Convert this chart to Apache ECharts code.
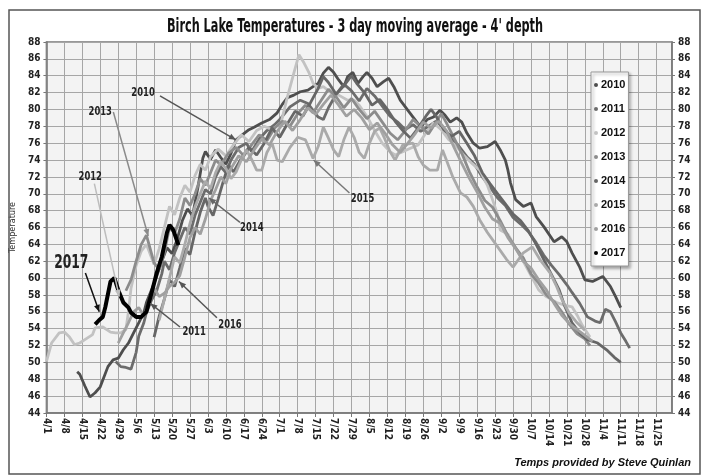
<!DOCTYPE html>
<html>
<head>
<meta charset="utf-8">
<script src="https://cdn.jsdelivr.net/npm/echarts@6/dist/echarts.min.js"></script>
<style>
    html, body { margin: 0; padding: 0; background: #fff; }
    #chart { width: 702px; height: 476px; }
</style>
</head>
<body>
<div id="chart"></div>
<script>
const FONT = '"Liberation Sans Narrow", "DejaVu Sans Condensed", "Liberation Sans", sans-serif'

// x axis = days since 4/1, one tick per week
const dateLabels = ['4/1', '4/8', '4/15', '4/22', '4/29', '5/6', '5/13', '5/20', '5/27', '6/3', '6/10', '6/17', '6/24',
    '7/1', '7/8', '7/15', '7/22', '7/29', '8/5', '8/12', '8/19', '8/26', '9/2', '9/9', '9/16', '9/23', '9/30',
    '10/7', '10/14', '10/21', '10/28', '11/4', '11/11', '11/18', '11/25']

const years = ['2010', '2011', '2012', '2013', '2014', '2015', '2016', '2017']
const yearColors = ['#4e4e4e', '#6c6c6c', '#c2c2c2', '#8c8c8c', '#666666', '#aaaaaa', '#a0a0a0', '#000000']

// [day since 4/1, temperature F]
const t2010 = [[12, 48.9], [13, 48.6], [15, 47.2], [17, 45.9], [19, 46.4], [21, 47.1], [22, 47.9], [24, 49.5], [26, 50.3],
    [28, 50.5], [30, 51.5], [32, 52.3], [34, 53.5], [36, 54.7], [38, 55.9], [39, 57.1], [41, 58.6], [43, 60.2], [45, 62],
    [47, 63.6], [49, 62.9], [51, 64.6], [53, 66.8], [55, 68.2], [57, 67.4], [59, 70.6], [61, 74.2], [62, 75], [64, 74.1],
    [66, 75.2], [68, 74.3], [70, 73.5], [72, 74.8], [74, 76.4], [76, 76.9], [79, 77.6], [81, 77.9], [84, 78.4], [87, 78.8],
    [90, 79.6], [92, 80.6], [94, 81.4], [96.5, 81.7], [99, 82.1], [102, 82.3], [104, 82.7], [106, 83.1], [108, 84.3],
    [110, 85], [112, 84.4], [114, 83.5], [116, 82.7], [117.5, 83.9], [119.5, 84.4], [121.5, 83.1], [123.5, 83.9],
    [125, 84.4], [127, 83.7], [129, 82.7], [131.5, 83.3], [133.5, 83.7], [135.5, 82.7], [138, 81.1], [141, 79.9],
    [143, 79.1], [146, 77.9], [148.5, 78.8], [151, 79.1], [153.5, 79.9], [155.5, 79.3], [157.5, 78.5], [160, 79],
    [162, 78.5], [164, 77.2], [166.5, 76], [169, 75.4], [172, 75.6], [175, 76.2], [177, 75.2], [179, 74], [180, 72.8],
    [181, 71.3], [183, 69.3], [186, 68.5], [189, 68.9], [191, 67.3], [194, 66.1], [198, 64.3], [201, 64.9], [203, 64.3],
    [205, 63], [208, 61.3], [210, 59.8], [213, 59.6], [217, 60.2], [220, 59], [222, 57.8], [224, 56.5]]
const t2011 = [[27, 50.1], [29, 49.5], [31, 49.4], [33, 49.2], [35, 51.2], [36, 53.1], [38, 54.7], [39, 55.9], [41, 57.4],
    [43, 58.5], [45, 60.5], [46, 62], [48, 61], [50, 63], [52, 64.5], [54, 66], [56, 65.2], [58, 67.5], [60, 69], [62, 70.5],
    [64, 70], [66, 72], [68, 73.2], [70, 72.5], [72, 74], [75, 75.5], [78, 76], [80, 75], [83, 76.5], [86, 77.5], [89, 78.2],
    [91, 78.8], [95, 80.3], [99, 81.1], [102, 80.7], [104, 79.9], [106, 79.1], [108, 78.8], [110, 80.2], [113, 81.8],
    [116, 83], [119, 82.2], [122, 81], [125, 82.5], [128, 81.6], [131, 80.4], [134, 79.2], [137, 78.5], [140, 77.6],
    [143, 78.2], [146, 77.4], [149, 78], [152, 78.6], [155, 77.8], [158, 76.5], [161, 75.6], [164, 74.4], [167, 73.5],
    [170, 72], [173, 70.8], [176, 69.5], [179, 68.6], [182, 67.2], [185, 66.4], [188, 65.5], [191, 64.2], [194, 62.7],
    [197, 61.5], [200, 60.4], [203, 59.2], [205, 58.3], [208, 57], [211, 55.4], [214, 54.9], [216, 54.7], [218, 56.3],
    [220, 56], [222, 54.8], [224, 53.5], [226, 52.5], [227.5, 51.7]]
const t2012 = [[0, 50.1], [2, 52.3], [5, 53.5], [7, 53.6], [9, 53], [11, 52.1], [13, 52.3], [15, 52.7], [18, 53.3],
    [19, 54.1], [22, 54.2], [25, 53.6], [27, 53.5], [29, 53.5], [31, 53.9], [32, 56], [33, 58.8], [35, 61.5], [37, 63.2],
    [39, 64], [40, 63.2], [42, 61.6], [44, 63.5], [46, 66], [48, 68.5], [50, 67.5], [52, 69.5], [54, 71], [56, 70.2],
    [58, 72.2], [60, 73.5], [62, 72.8], [64, 74.4], [67, 75.3], [70, 74.5], [73, 75.8], [76, 77], [79, 76.2], [82, 77.5],
    [85, 78], [88, 77.6], [91.5, 78.4], [94, 81.5], [96.5, 84.3], [98.5, 86.5], [100.5, 85.5], [102.5, 84.3], [104, 83.1],
    [106, 82.5], [108, 82.7], [111, 82], [114, 81.7], [117.5, 81.1], [120, 81.1], [122, 80.5], [125, 79.2], [128, 77.5],
    [131, 76], [134, 75], [136, 74.6], [139, 75], [142, 75.4], [145, 75.8], [148, 77.2], [151, 78.4], [154, 77.6],
    [157, 76.4], [160, 75.6], [163, 74.5], [166, 73.6], [169, 72.8], [172, 71], [174, 69.3], [176, 67.5], [177, 65.7],
    [180, 65.2], [183, 63.6], [186, 62], [189, 60.3], [192, 58.6], [195, 57.8], [199, 57.1], [202, 56.8], [205, 56.6],
    [207, 55.6], [209, 54.4], [212, 53]]
const t2013 = [[31, 58.5], [33, 59.8], [35, 62], [37, 64], [39, 65.1], [40, 64], [42, 61.8], [44, 61], [46, 63], [48, 66],
    [50, 65.3], [52, 67], [54, 69.5], [56, 68.6], [58, 70], [60, 71.8], [62, 71], [64, 72.5], [66, 74], [68, 73.4],
    [71, 74.8], [74, 75.5], [77, 74.5], [80, 75.8], [83, 77], [86, 76.3], [89, 77.8], [92, 78.6], [95, 78], [98, 79.5],
    [101, 80.5], [104, 79.6], [107, 81], [110, 82.4], [113, 81.5], [116, 80.2], [119, 81.3], [122, 80], [125, 78.9],
    [128, 79.8], [131, 78.5], [134, 77.2], [137, 76.4], [140, 77.5], [143, 78.8], [146, 78], [149, 77.1], [152, 78.5],
    [154, 79.5], [156, 78.4], [159, 76.6], [162, 74.8], [165, 72.6], [168, 70.8], [171, 69.2], [174, 68.4], [177, 66.8],
    [180, 65], [183, 63.6], [186, 62.4], [189, 60.5], [192, 59.4], [195, 58], [198, 57.2], [201, 56], [204, 54.5],
    [207, 53.4], [210, 52.8], [212, 52]]
const t2014 = [[42, 53], [44, 55.5], [46, 57.5], [48, 59.8], [50, 59], [52, 61.2], [54, 63.5], [56, 62.8], [58, 65.5],
    [60, 67.8], [62, 69.5], [63, 68.5], [65, 67.4], [67, 69.4], [69, 71.5], [71, 73.4], [73, 72.6], [76, 74.2], [79, 75.5],
    [82, 74.6], [85, 76], [88, 77.8], [91, 76.7], [94, 78.3], [97, 79.8], [100, 79.2], [103, 80.8], [106, 82.5],
    [108, 83.9], [110, 83.2], [113, 81.8], [116, 82.8], [119, 84], [121, 83.1], [124, 82], [127, 80.5], [130, 81.2],
    [133, 80], [136, 78.6], [139, 77.5], [142, 76.6], [145, 77.8], [148, 79.2], [150, 80], [152, 79.2], [155, 77.6],
    [158, 76.8], [161, 77.4], [164, 76], [167, 74.5], [170, 72.5], [173, 71.2], [176, 70], [179, 68.8], [182, 67.6],
    [185, 66.8], [188, 65.6], [191, 64], [194, 62.2], [197, 60.4], [200, 58.6], [202, 56.8], [205, 54.7], [208, 53.5],
    [211, 52.7], [215, 52.3], [218.5, 51.5], [221.5, 50.6], [224, 50]]
const t2015 = [[44, 55], [46, 57.5], [48, 60], [50, 62.5], [52, 61.8], [54, 64], [56, 66.5], [58, 68.5], [60, 70],
    [62, 71.5], [64, 70.6], [66, 72.5], [68, 73.8], [70, 73], [72, 71.8], [74, 72.6], [76, 74], [78, 75.2], [80, 74.1],
    [82, 72.8], [84, 72.8], [86, 74.9], [88, 76], [90, 74], [92, 73.8], [95, 75.5], [98, 76.7], [101, 76.4], [104, 74.2],
    [106, 75.6], [108, 77.9], [110, 76.6], [112, 75.2], [114, 74.4], [116, 76.4], [118, 77.9], [120, 76.7], [122, 74.9],
    [124, 74.2], [126, 76], [128, 77.4], [130, 77.8], [132, 76.5], [134, 75], [136, 74], [139, 75.8], [143, 76],
    [145, 74.4], [147, 73.4], [149.5, 72.8], [152.5, 72.8], [153.5, 74], [154.5, 75.2], [156, 74], [158.5, 72],
    [161.5, 70.1], [164, 69.6], [166.5, 68.5], [169, 66.9], [172, 65.4], [176, 63.7], [179.5, 62.2], [182, 61.3],
    [186, 63], [189.5, 63.7], [192.5, 62.2], [196.5, 60.6], [199, 59], [201, 57.5], [204, 55.8], [207, 54.7], [210, 53.8]]
const t2016 = [[28, 52.3], [30, 53.5], [32, 54.7], [34, 56], [36, 56.5], [38, 55.5], [40, 57], [42, 58.8], [44, 57.8],
    [46, 58.2], [48, 59], [50, 59.5], [52, 60.3], [54, 62.5], [56, 64.8], [58, 66], [60, 65.2], [62, 67], [64, 69.2],
    [66, 70.5], [68, 72], [70, 71.2], [72, 73], [75, 74.5], [78, 73.8], [81, 75.2], [84, 76.5], [87, 75.8], [90, 77.4],
    [93, 78.6], [96, 77.5], [99, 78.8], [102, 80.2], [105, 79.4], [108, 80.6], [111, 81.7], [114, 80.5], [117, 79.2],
    [120, 80], [123, 79], [126, 77.6], [129, 78.4], [132, 77.2], [135, 75.8], [138, 74.9], [141, 76], [144, 77.2],
    [147, 78.5], [150, 77.8], [153, 78.6], [156, 77.5], [159, 75.5], [162, 73.6], [165, 71.8], [168, 70.2], [171, 68.4],
    [174, 67], [177, 66.5], [180, 64.8], [183, 63.5], [186, 62], [189, 61.2], [192, 59.8], [195, 58.6], [198, 57],
    [201, 55.6], [204, 54.6], [207, 53.9], [210, 53.2], [213, 52.5]]
const t2017 = [[19, 54.5], [20.5, 55], [22, 55.4], [23, 56.6], [25, 59.6], [26.5, 60], [28, 58.6], [30, 57.1], [32, 56.5],
    [33, 55.9], [35, 55.4], [37, 55.4], [39, 56], [41, 58.2], [43, 60.6], [45, 62.5], [47, 65.4], [48, 66.3], [49.5, 65.7],
    [50.5, 64.8], [51.5, 63.9]]

const yearData = [t2010, t2011, t2012, t2013, t2014, t2015, t2016, t2017]

// annotation labels with arrows, in [day, temp]
const notes = [
    { text: '2017', at: [9.7, 61.8], from: [15.2, 60.6], to: [20.6, 56], color: '#111', size: 19 },
    { text: '2012', at: [17.1, 72], from: [18.7, 71.2], to: [28.4, 57.8], color: '#bdbdbd', size: 13 },
    { text: '2013', at: [21, 79.8], from: [26.1, 79.7], to: [39.7, 65], color: '#8a8a8a', size: 13 },
    { text: '2010', at: [37.7, 82], from: [44.3, 81.6], to: [73.9, 76.4], color: '#555', size: 13 },
    { text: '2014', at: [80.1, 66], from: [75.5, 66.6], to: [63.4, 69.5], color: '#666', size: 13 },
    { text: '2015', at: [123.3, 69.4], from: [118.2, 70.1], to: [104.2, 74], color: '#777', size: 13 },
    { text: '2016', at: [71.6, 54.5], from: [66.5, 55.3], to: [51.7, 59.6], color: '#555', size: 13 },
    { text: '2011', at: [57.6, 53.6], from: [52.1, 54.2], to: [40.5, 57], color: '#555', size: 13 }
]

const chart = echarts.init(document.getElementById('chart'))

const labelStyle = {
    fontFamily: FONT,
    fontWeight: 'bold',
    fontSize: 10,
    color: '#222'
}

const option = {
    animation: false,
    backgroundColor: '#fff',
    grid: {
        left: 45,
        right: 30,
        top: 42,
        bottom: 63,
        show: true,
        backgroundColor: '#f3f3f3',
        borderColor: '#777',
        borderWidth: 1.5
    },
    legend: {
        orient: 'vertical',
        left: 591,
        top: 72,
        data: years,
        icon: 'circle',
        itemWidth: 4,
        itemHeight: 4,
        itemGap: 10,
        padding: [6, 3, 6, 3],
        backgroundColor: '#fff',
        borderColor: '#999',
        borderWidth: 1,
        shadowColor: 'rgba(0,0,0,0.35)',
        shadowBlur: 3,
        shadowOffsetX: 2,
        shadowOffsetY: 2,
        textStyle: { fontFamily: '"Liberation Sans", sans-serif', fontWeight: 'bold', fontSize: 11, color: '#111', lineHeight: 14, padding: [0, 0, 0, -2] }
    },
    xAxis: {
        type: 'value',
        min: 0,
        max: 244,
        interval: 7,
        axisLine: { show: true, lineStyle: { color: '#777', width: 1.5 } },
        axisTick: { show: true, length: 4, lineStyle: { color: '#777' } },
        axisLabel: {
            ...labelStyle,
            rotate: -90,
            margin: 5,
            showMaxLabel: false,
            formatter: (v) => (v % 7 === 0 ? dateLabels[v / 7] || '' : '')
        },
        splitLine: { show: true, lineStyle: { color: '#a6a6a6', width: 1 } }
    },
    yAxis: [
        {
            type: 'value',
            min: 44,
            max: 88,
            interval: 2,
            name: 'Temperature',
            nameLocation: 'middle',
            nameGap: 27,
            nameRotate: 90,
            nameTextStyle: { fontFamily: FONT, fontSize: 9, color: '#333' },
            axisLine: { show: true, lineStyle: { color: '#777', width: 1.5 } },
            axisTick: { show: true, length: 3, lineStyle: { color: '#777' } },
            axisLabel: { ...labelStyle, margin: 6 },
            splitLine: { show: true, lineStyle: { color: '#a6a6a6', width: 1 } }
        },
        {
            type: 'value',
            position: 'right',
            min: 44,
            max: 88,
            interval: 2,
            axisLine: { show: true, lineStyle: { color: '#777', width: 1.5 } },
            axisTick: { show: true, length: 3, lineStyle: { color: '#777' } },
            axisLabel: { ...labelStyle, margin: 6 },
            splitLine: { show: false }
        }
    ],
    series: years.map((y, i) => ({
        name: y,
        type: 'line',
        data: yearData[i],
        showSymbol: false,
        symbol: 'circle',
        z: i === 7 ? 10 : 2 + i,
        lineStyle: { width: i === 7 ? 4 : 2.8, color: yearColors[i] },
        itemStyle: { color: yearColors[i] }
    }))
}

chart.setOption(option)

// arrows and text drawn on top, positioned through the chart's own scales
function arrowHead(p1, p2, len, half) {
    const a = Math.atan2(p2[1] - p1[1], p2[0] - p1[0])
    const c = Math.cos(a), s = Math.sin(a)
    return [
        [p2[0], p2[1]],
        [p2[0] - len * c + half * s, p2[1] - len * s - half * c],
        [p2[0] - len * c - half * s, p2[1] - len * s + half * c]
    ]
}

const graphic = [
    {
        type: 'rect',
        silent: true,
        shape: { x: 9, y: 10, width: 691, height: 464 },
        style: { fill: 'none', stroke: '#555', lineWidth: 1.5 },
        z: 100
    },
    {
        type: 'text',
        x: 355,
        y: 27,
        scaleX: 0.66,
        style: {
            text: "Birch Lake Temperatures - 3 day moving average - 4' depth",
            x: 0,
            y: 0,
            align: 'center',
            verticalAlign: 'middle',
            font: 'bold 19px ' + FONT,
            fill: '#111'
        },
        z: 100
    },
    {
        type: 'text',
        x: 691,
        y: 463,
        style: {
            text: 'Temps provided by Steve Quinlan',
            align: 'right',
            verticalAlign: 'middle',
            font: 'italic bold 11px "Liberation Sans", sans-serif',
            fill: '#111'
        },
        z: 100
    }
]

notes.forEach((n) => {
    const at = chart.convertToPixel({ gridIndex: 0 }, n.at)
    const p1 = chart.convertToPixel({ gridIndex: 0 }, n.from)
    const p2 = chart.convertToPixel({ gridIndex: 0 }, n.to)
    graphic.push({
        type: 'line',
        silent: true,
        shape: { x1: p1[0], y1: p1[1], x2: p2[0], y2: p2[1] },
        style: { stroke: n.color, lineWidth: 1.5 },
        z: 50
    })
    graphic.push({
        type: 'polygon',
        silent: true,
        shape: { points: arrowHead(p1, p2, 7, 3) },
        style: { fill: n.color },
        z: 50
    })
    graphic.push({
        type: 'text',
        x: at[0],
        y: at[1],
        scaleX: 0.72,
        style: {
            text: n.text,
            x: 0,
            y: 0,
            align: 'center',
            verticalAlign: 'middle',
            font: 'bold ' + n.size + 'px ' + FONT,
            fill: '#222'
        },
        z: 60
    })
})

chart.setOption({ graphic: graphic })

window.addEventListener('resize', () => {
    chart.resize()
})
</script>
</body>
</html>
